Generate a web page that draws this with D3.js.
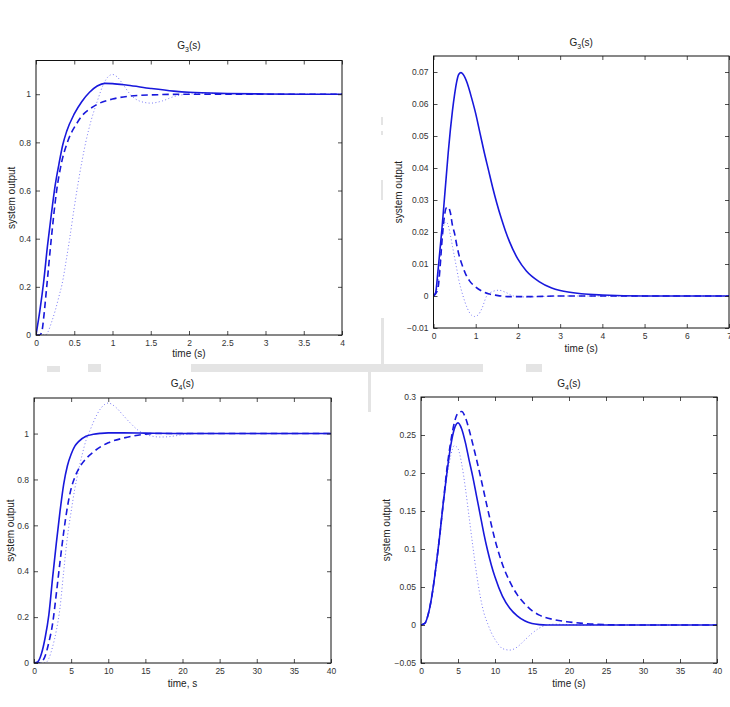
<!DOCTYPE html>
<html>
<head>
<meta charset="utf-8">
<script src="https://cdn.jsdelivr.net/npm/d3@7"></script>
<style>
  body { margin: 0; background: #fff; }
  svg { display: block; font-family: "Liberation Sans", Arial, Helvetica, sans-serif; }
</style>
</head>
<body>
<div id="chart"></div>
<script>
// ---- data read off the four step / disturbance responses ----
// each series is a list of [time, output]

// G3(s) step response (top left)
var g3StepSolid = [[0,0],[0.05,0.1],[0.1,0.22],[0.15,0.37],[0.2,0.5],[0.25,0.62],[0.3,0.71],[0.35,0.79],
  [0.4,0.845],[0.5,0.918],[0.6,0.97],[0.7,1.008],[0.8,1.034],[0.9,1.045],[1.0,1.044],[1.2,1.037],
  [1.5,1.024],[1.8,1.013],[2.0,1.008],[2.5,1.003],[3.0,1.001],[3.5,1.0],[4.0,1.0]];
var g3StepDashed = [[0,0],[0.05,0],[0.08,0.02],[0.1,0.07],[0.14,0.2],[0.2,0.4],[0.27,0.6],[0.33,0.71],
  [0.41,0.8],[0.47,0.845],[0.52,0.872],[0.6,0.91],[0.7,0.938],[0.8,0.958],[1.0,0.98],[1.2,0.991],
  [1.5,0.997],[2.0,1.0],[4.0,1.0]];
var g3StepDotted = [[0,0],[0.12,0],[0.16,0.015],[0.2,0.05],[0.25,0.1],[0.3,0.16],[0.34,0.21],[0.4,0.32],
  [0.44,0.4],[0.5,0.53],[0.55,0.63],[0.6,0.72],[0.65,0.8],[0.72,0.89],[0.8,0.97],[0.88,1.04],[0.95,1.075],
  [1.0,1.082],[1.06,1.072],[1.15,1.035],[1.23,1.0],[1.35,0.972],[1.5,0.963],[1.65,0.972],[1.8,0.99],
  [1.97,1.0],[2.2,1.004],[2.5,1.002],[3.0,1.0],[4.0,1.0]];

// G3(s) disturbance response (top right)
var g3DistSolid = [[0,0],[0.05,0.001],[0.1,0.007],[0.15,0.014],[0.2,0.021],[0.25,0.029],[0.3,0.037],
  [0.35,0.045],[0.4,0.052],[0.45,0.058],[0.5,0.063],[0.55,0.067],[0.6,0.0693],[0.65,0.0698],[0.7,0.0693],
  [0.8,0.0665],[0.9,0.062],[1.0,0.057],[1.1,0.051],[1.2,0.045],[1.3,0.0395],[1.4,0.034],[1.5,0.029],
  [1.6,0.0245],[1.7,0.0205],[1.8,0.017],[2.0,0.0115],[2.2,0.0078],[2.5,0.0045],[2.8,0.0025],[3.0,0.0017],
  [3.5,0.0007],[4.0,0.0003],[5.0,0],[7.0,0]];
var g3DistDashed = [[0,0],[0.1,0.002],[0.15,0.008],[0.2,0.017],[0.25,0.024],[0.3,0.0275],[0.35,0.0278],
  [0.4,0.026],[0.45,0.022],[0.5,0.0195],[0.55,0.016],[0.6,0.013],[0.67,0.01],[0.75,0.0072],[0.85,0.0048],
  [1.0,0.0028],[1.15,0.0015],[1.3,0.0007],[1.5,0.0002],[1.8,-0.0002],[2.2,-0.0002],[3.0,0],[7.0,0]];
var g3DistDotted = [[0,0],[0.1,0.003],[0.15,0.01],[0.2,0.018],[0.25,0.0225],[0.3,0.0232],[0.35,0.022],
  [0.4,0.019],[0.45,0.0155],[0.5,0.012],[0.55,0.0085],[0.6,0.005],[0.7,0],[0.8,-0.0038],[0.9,-0.006],
  [0.97,-0.0064],[1.05,-0.006],[1.15,-0.0038],[1.26,0],[1.4,0.0014],[1.55,0.0018],[1.7,0.0012],[1.9,0],
  [2.2,-0.0003],[2.5,-0.0002],[3.0,0],[7.0,0]];

// G4(s) step response (bottom left)
var g4StepSolid = [[0,0],[0.5,0.005],[1.0,0.04],[1.5,0.11],[2.0,0.21],[2.5,0.37],[3.0,0.52],[3.5,0.66],
  [4.0,0.78],[4.5,0.86],[5.0,0.91],[5.5,0.945],[6.0,0.965],[7.0,0.988],[8.0,0.997],[9.0,1.001],[10,1.003],
  [12,1.003],[15,1.002],[20,1.0],[40,1.0]];
var g4StepDashed = [[0,0],[0.8,0],[1.2,0.01],[1.6,0.04],[2.0,0.09],[2.5,0.17],[3.0,0.3],[3.5,0.44],
  [4.0,0.57],[4.5,0.68],[5.0,0.76],[5.5,0.81],[6.0,0.845],[7.0,0.89],[8.0,0.92],[9.0,0.943],[10,0.96],
  [12,0.98],[14,0.993],[16,1.0],[20,1.0],[40,1.0]];
var g4StepDotted = [[0,0],[1.5,0],[2.0,0.02],[2.5,0.07],[3.0,0.14],[3.5,0.24],[4.0,0.4],[4.5,0.55],
  [5.0,0.66],[5.5,0.76],[6.0,0.84],[6.5,0.91],[7.0,0.97],[7.5,1.01],[8.0,1.05],[9.0,1.11],[10,1.133],
  [11,1.115],[12,1.08],[13,1.045],[14,1.015],[15,0.997],[16,0.988],[17,0.985],[18,0.986],[19,0.99],
  [20,0.995],[22,1.0],[40,1.0]];

// G4(s) disturbance response (bottom right)
var g4DistSolid = [[0,0],[0.5,0.002],[1,0.015],[1.5,0.04],[2,0.075],[2.5,0.115],[3,0.16],[3.5,0.2],
  [4,0.235],[4.5,0.258],[5,0.266],[5.5,0.258],[6,0.24],[6.5,0.217],[7,0.195],[7.5,0.17],[8,0.145],
  [8.5,0.12],[9,0.098],[9.5,0.079],[10,0.063],[11,0.038],[12,0.022],[13,0.012],[14,0.0055],[15,0.002],
  [16,0.0005],[17,0],[40,0]];
var g4DistDashed = [[0,0],[0.5,0.002],[1,0.015],[1.5,0.04],[2,0.075],[2.5,0.115],[3,0.16],[3.5,0.205],
  [4,0.24],[4.5,0.266],[5,0.279],[5.5,0.281],[6,0.273],[6.5,0.257],[7,0.238],[7.5,0.218],[8,0.197],
  [8.5,0.175],[9,0.153],[9.5,0.132],[10,0.112],[10.5,0.095],[11,0.08],[12,0.057],[13,0.04],[14,0.028],
  [15,0.019],[16,0.013],[18,0.007],[20,0.004],[22,0.002],[25,0.0005],[28,0],[40,0]];
var g4DistDotted = [[0,0],[0.5,0.002],[1,0.015],[1.5,0.04],[2,0.075],[2.5,0.115],[3,0.158],[3.5,0.195],
  [4,0.222],[4.5,0.236],[5,0.232],[5.5,0.212],[6,0.18],[6.5,0.142],[7,0.104],[7.5,0.068],[8,0.038],
  [8.5,0.016],[9,0.002],[9.5,-0.01],[10,-0.019],[10.5,-0.026],[11,-0.031],[12,-0.033],[13,-0.029],
  [14,-0.02],[15,-0.011],[16,-0.004],[17,0],[18,0.001],[20,0.0005],[22,0],[40,0]];

// tick values
var g3StepXTicks = [0, 0.5, 1, 1.5, 2, 2.5, 3, 3.5, 4];
var g3StepYTicks = [0, 0.2, 0.4, 0.6, 0.8, 1];
var g3DistXTicks = [0, 1, 2, 3, 4, 5, 6, 7];
var g3DistYTicks = [-0.01, 0, 0.01, 0.02, 0.03, 0.04, 0.05, 0.06, 0.07];
var g4XTicks = [0, 5, 10, 15, 20, 25, 30, 35, 40];
var g4StepYTicks = [0, 0.2, 0.4, 0.6, 0.8, 1];
var g4DistYTicks = [-0.05, 0, 0.05, 0.1, 0.15, 0.2, 0.25, 0.3];

// ---- layout ----
var W = 730, H = 707;

var panels = [
  { sub: "3", xLabel: "time (s)", left: 36, top: 60.5, right: 342, bottom: 335,
    xDomain: [0, 4], yDomain: [0, 1.14], xTicks: g3StepXTicks, yTicks: g3StepYTicks,
    series: [g3StepDotted, g3StepDashed, g3StepSolid], titleY: 49, xLabelY: 357, yLabelX: 14.5 },
  { sub: "3", xLabel: "time (s)", left: 433.5, top: 56, right: 729, bottom: 328,
    xDomain: [0, 7], yDomain: [-0.01, 0.075], xTicks: g3DistXTicks, yTicks: g3DistYTicks,
    series: [g3DistDotted, g3DistDashed, g3DistSolid], titleY: 46, xLabelY: 352, yLabelX: 402 },
  { sub: "4", xLabel: "time, s", left: 34, top: 398, right: 331, bottom: 663,
    xDomain: [0, 40], yDomain: [0, 1.155], xTicks: g4XTicks, yTicks: g4StepYTicks,
    series: [g4StepDotted, g4StepDashed, g4StepSolid], titleY: 387, xLabelY: 687, yLabelX: 14 },
  { sub: "4", xLabel: "time (s)", left: 421, top: 397, right: 717, bottom: 663,
    xDomain: [0, 40], yDomain: [-0.05, 0.3], xTicks: g4XTicks, yTicks: g4DistYTicks,
    series: [g4DistDotted, g4DistDashed, g4DistSolid], titleY: 387, xLabelY: 687, yLabelX: 390 }
];

// dotted, dashed, solid
var lineStyles = [
  { color: "#6a6af4", width: 0.9, dash: "1,2.4" },
  { color: "#1818dc", width: 1.6, dash: "6.5,4" },
  { color: "#1818dc", width: 1.6, dash: null }
];

// faint grey marks left over from the scanned page
var scanMarks = [
  [191, 364, 292, 8], [47, 366, 13, 6], [88, 364, 13, 8], [526, 364, 16, 8],
  [381, 318, 3, 46], [368, 372, 3, 40], [381, 117, 2, 8], [381, 131, 2, 4], [381, 180, 2, 20]
];

var svg = d3.select("#chart")
  .append("svg")
  .attr("width", W)
  .attr("height", H);

svg.selectAll("rect.scan")
  .data(scanMarks)
  .enter()
  .append("rect")
  .attr("class", "scan")
  .attr("x", d => d[0]).attr("y", d => d[1])
  .attr("width", d => d[2]).attr("height", d => d[3])
  .attr("fill", "#e4e4e4");

var fmt = d3.format("~g");

panels.forEach(function (p, i) {
  var x = d3.scaleLinear().domain(p.xDomain).range([p.left, p.right]);
  var y = d3.scaleLinear().domain(p.yDomain).range([p.bottom, p.top]);

  var g = svg.append("g");

  g.append("clipPath").attr("id", "clip" + i)
    .append("rect")
    .attr("x", p.left).attr("y", p.top)
    .attr("width", p.right - p.left).attr("height", p.bottom - p.top);

  // curves
  var line = d3.line()
    .x(d => x(d[0]))
    .y(d => y(d[1]))
    .curve(d3.curveMonotoneX);

  g.append("g").attr("clip-path", "url(#clip" + i + ")")
    .selectAll("path")
    .data(p.series)
    .enter()
    .append("path")
    .attr("d", line)
    .attr("fill", "none")
    .attr("stroke", (d, k) => lineStyles[k].color)
    .attr("stroke-width", (d, k) => lineStyles[k].width)
    .attr("stroke-dasharray", (d, k) => lineStyles[k].dash)
    .attr("stroke-linejoin", "round");

  // axes, ticks pointing inward on all four sides
  function styleAxis(sel) {
    sel.select(".domain").remove();
    sel.selectAll(".tick line").attr("stroke", "#222").attr("stroke-width", 0.8);
    sel.selectAll(".tick text")
      .attr("fill", "#333")
      .style("font-family", "'Liberation Sans', Arial, sans-serif")
      .style("font-size", "8.5px");
  }

  g.append("g")
    .attr("transform", "translate(0," + p.bottom + ")")
    .call(d3.axisBottom(x).tickValues(p.xTicks).tickSize(-4).tickPadding(5).tickFormat(fmt))
    .call(styleAxis);
  g.append("g")
    .attr("transform", "translate(0," + p.top + ")")
    .call(d3.axisTop(x).tickValues(p.xTicks).tickSize(-4).tickFormat(""))
    .call(styleAxis);
  g.append("g")
    .attr("transform", "translate(" + p.left + ",0)")
    .call(d3.axisLeft(y).tickValues(p.yTicks).tickSize(-4).tickPadding(5).tickFormat(fmt))
    .call(styleAxis);
  g.append("g")
    .attr("transform", "translate(" + p.right + ",0)")
    .call(d3.axisRight(y).tickValues(p.yTicks).tickSize(-4).tickFormat(""))
    .call(styleAxis);

  // frame
  g.append("rect")
    .attr("x", p.left).attr("y", p.top)
    .attr("width", p.right - p.left).attr("height", p.bottom - p.top)
    .attr("fill", "none")
    .attr("stroke", "#111")
    .attr("stroke-width", 1);

  var cx = (p.left + p.right) / 2;

  // title G_n(s)
  var t = g.append("text")
    .attr("x", cx).attr("y", p.titleY)
    .attr("text-anchor", "middle")
    .attr("fill", "#222")
    .style("font-size", "10px");
  t.append("tspan").text("G");
  t.append("tspan").attr("dy", 3).style("font-size", "7px").text(p.sub);
  t.append("tspan").attr("dy", -3).text("(s)");

  // axis labels
  g.append("text")
    .attr("x", cx).attr("y", p.xLabelY)
    .attr("text-anchor", "middle")
    .attr("fill", "#222")
    .style("font-size", "10px")
    .text(p.xLabel);

  g.append("text")
    .attr("transform", "translate(" + p.yLabelX + "," + (p.top + p.bottom) / 2 + ") rotate(-90)")
    .attr("text-anchor", "middle")
    .attr("fill", "#222")
    .style("font-size", "10px")
    .text("system output");
});
</script>
</body>
</html>
